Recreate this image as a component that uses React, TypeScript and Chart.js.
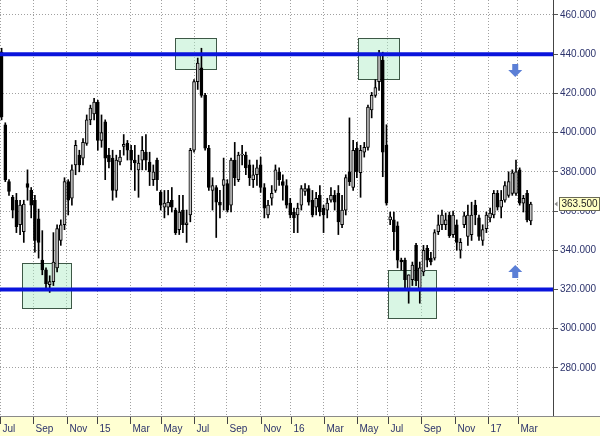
import { useEffect, useRef } from "react";
import { Chart, registerables } from "chart.js";

Chart.register(...registerables);

// Weekly OHLC (index 0 = first week of Jul 2014)
const opens = [
  441, 404, 375, 367, 365.5, 353, 349.5, 374, 370.5, 365.5,
  356, 335, 330, 322.5, 324, 331, 345, 353, 375, 366.5,
  383.5, 388.5, 387, 394.5, 406.5, 409.5, 415.5, 396, 405.5, 388.5,
  387, 370.5, 385, 393, 394.5, 391, 386, 381, 386, 390,
  385, 376, 386, 369.5, 362, 362, 365.5, 360.5, 350.5, 360.5,
  353, 358, 391, 426, 433, 419, 392, 370.5, 372, 364.5,
  373, 374, 363, 386, 376, 388.5, 388.5, 383.5, 376, 378.5,
  383.5, 372, 358, 366.5, 370.5, 380, 375, 373, 364, 359.5,
  358, 363, 370, 371.5, 365.5, 362, 368, 361.5, 360.5, 365.5,
  368, 369, 353, 360.5, 380, 372, 392, 379.5, 390, 392.5,
  411.5, 419, 426, 437, 393.5, 355.5, 355.5, 352.5, 335, 335,
  319.5, 325, 342.5, 320.5, 329, 341, 336, 336, 349.5, 353,
  353, 358, 348, 353, 340, 353, 347, 348, 363, 356.5,
  345, 351, 356.5, 358, 369, 362, 365.5, 368, 369, 369,
  381, 364, 369, 355,
];
const highs = [
  443, 405, 376, 368, 369, 365.5, 365.5, 381, 372, 368,
  361, 350, 331, 327, 349, 353, 355.5, 377, 376, 383.5,
  396, 391, 397, 409, 414, 417.5, 416.5, 409, 406.5, 392,
  391, 388.5, 391, 399, 396, 393.5, 393.5, 388.5, 398, 399,
  390, 383.5, 387, 370.5, 370.5, 370.5, 372, 361.5, 368, 368,
  360.5, 392, 427, 438, 443, 420, 393.5, 377, 373, 370.5,
  387, 376, 387, 395, 390, 393.5, 390, 386, 383.5, 386,
  387.5, 374, 365.5, 373, 383.5, 382, 378.5, 376, 366.5, 361.5,
  364, 373, 374, 373, 370.5, 369.5, 373, 363, 366.5, 372,
  370.5, 373, 368, 378.5, 407.5, 396, 395, 393.5, 395, 414,
  420.5, 427, 442, 441, 404, 359.5, 359.5, 354.5, 336, 336,
  327.5, 334, 343.5, 334, 342.5, 342.5, 339, 350.5, 358, 360.5,
  359, 359.5, 360, 355.5, 346, 359.5, 363, 364.5, 365.5, 358,
  353, 359.5, 361.5, 370.5, 370.5, 370.5, 375, 380, 381, 386,
  382, 368, 370.5, 364.5,
];
const lows = [
  406.5, 375, 368, 356.5, 349, 348, 344, 365.5, 356.5, 339,
  336, 327.5, 319.5, 318.5, 322, 329, 342.5, 350.5, 358, 363,
  378.5, 380, 383.5, 393.5, 404, 406.5, 391, 392.5, 376, 382,
  365.5, 367, 383.5, 388.5, 386, 381, 370.5, 367, 381, 381,
  373, 373, 370.5, 360.5, 356.5, 358, 359.5, 348, 348, 349,
  344, 354.5, 390, 422, 418, 391, 370.5, 360.5, 346.5, 356.5,
  360.5, 359.5, 359.5, 373, 375, 383.5, 378.5, 373, 372, 373,
  369.5, 356.5, 356.5, 363, 369.5, 373, 365.5, 361.5, 356.5, 349,
  349, 360.5, 368, 363, 357, 358, 357.5, 349, 356.5, 364.5,
  360.5, 348, 351.5, 358, 373, 370.5, 377, 367, 387.5, 391,
  407.5, 418, 421.5, 377.5, 363, 353, 340, 331, 330, 319.5,
  313, 322, 322, 313, 327, 331.5, 332.5, 335, 348, 350.5,
  350.5, 346.5, 346.5, 340, 336, 351.5, 342.5, 345, 353, 345,
  342.5, 349, 354.5, 356.5, 360.5, 356.5, 364.5, 367, 368, 368,
  363, 359.5, 354.5, 353,
];
const closes = [
  408, 376, 370, 360.5, 352, 363, 363.5, 372, 363, 345,
  344, 330, 323, 324, 334, 351, 353, 375, 365.5, 381,
  393.5, 383.5, 395, 406.5, 412.5, 415.5, 396, 400, 387, 385,
  370.5, 386, 387.5, 394, 391, 386, 384.5, 384.5, 391, 386,
  380, 380, 376, 363, 364, 364.5, 362, 349, 359.5, 353,
  354, 391, 426, 435.5, 419, 392, 372, 373, 364.5, 363,
  376, 360.5, 386, 377, 388.5, 389, 382, 377, 378.5, 382,
  372, 361.5, 363, 369, 381, 376, 373, 363, 358, 356.5,
  361.5, 371.5, 371.5, 364.5, 358, 366.5, 359.5, 358, 364, 368,
  364.5, 354.5, 360.5, 377, 375, 391, 380, 391, 392.5, 413,
  419, 423, 439.5, 390, 364, 357, 349.5, 335, 334, 325,
  327.5, 332.5, 324.5, 331, 340, 335, 334, 349, 353, 358,
  355.5, 347.5, 358, 344, 344, 357.5, 358, 358, 358, 347,
  350.5, 358, 359, 369, 362, 365.5, 373, 375, 379.5, 380,
  364, 366.5, 355.5, 363.5,
];

const tickLabels = ["Jul", "Sep", "Nov", "15", "Mar", "May", "Jul", "Sep", "Nov", "16", "Mar", "May", "Jul", "Sep", "Nov", "17", "Mar"];
const tickWeeks = [-0.43, 8.49, 17.6, 25.8, 34.7, 43.1, 52.1, 60.8, 70.0, 78.2, 87.1, 96.1, 104.4, 113.4, 122.4, 131.5, 139.5];
const priceTicks = [280, 300, 320, 340, 360, 380, 400, 420, 440, 460];
const levels = [440, 320];

const boxWeekStart = [5.5, 46.9, 96.3, 104.4];
const boxWeekEnd = [18.76, 57.9, 107.4, 117.4];
const boxPriceTop = [333.5, 448.3, 448.3, 329.9];
const boxPriceBottom = [310.5, 432.4, 427.3, 305.4];

const arrowWeek = [138.8, 138.8];
const arrowPrice = [431.7, 329.2];
const arrowDir = ["down", "up"];

const lastPrice = 363.5;
const xMin = -0.43;
const xMax = 149.0;
const yMin = 255.5;
const yMax = 467.6;

const FONT = "Liberation Sans, Arial, sans-serif";
const TEXT = "#2c336c";

const overlay = {
  id: "overlay",
  beforeDatasetsDraw(chart: any) {
    const { ctx, scales } = chart;
    const x = scales.x;
    const y = scales.y;
    ctx.save();
    for (let i = 0; i < boxWeekStart.length; i++) {
      const x0 = Math.round(x.getPixelForValue(boxWeekStart[i])) + 0.5;
      const x1 = Math.round(x.getPixelForValue(boxWeekEnd[i])) + 0.5;
      const y0 = Math.round(y.getPixelForValue(boxPriceTop[i])) + 0.5;
      const y1 = Math.round(y.getPixelForValue(boxPriceBottom[i])) + 0.5;
      ctx.fillStyle = "rgba(170,235,195,0.45)";
      ctx.fillRect(x0, y0, x1 - x0, y1 - y0);
      ctx.strokeStyle = "#3d5846";
      ctx.lineWidth = 1;
      ctx.strokeRect(x0, y0, x1 - x0, y1 - y0);
    }
    ctx.restore();
  },
  afterDatasetsDraw(chart: any) {
    const { ctx, scales } = chart;
    const x = scales.x;
    const y = scales.y;
    ctx.save();
    ctx.fillStyle = "#5b7fd6";
    for (let i = 0; i < arrowWeek.length; i++) {
      const ax = x.getPixelForValue(arrowWeek[i]);
      const ay = y.getPixelForValue(arrowPrice[i]);
      const d = arrowDir[i] === "down" ? 1 : -1;
      const pts: [number, number][] = [
        [-3, -6.5], [3, -6.5], [3, -0.5], [7, -0.5], [0, 6.5], [-7, -0.5], [-3, -0.5],
      ];
      ctx.beginPath();
      pts.forEach(([px, py], k) => {
        const X = ax + px;
        const Y = ay + d * py;
        if (k === 0) ctx.moveTo(X, Y);
        else ctx.lineTo(X, Y);
      });
      ctx.closePath();
      ctx.fill();
    }
    ctx.restore();
  },
  afterDraw(chart: any) {
    const { ctx, scales, chartArea, width, height } = chart;
    const x = scales.x;
    const y = scales.y;
    const bottom = chartArea.bottom;
    ctx.save();
    ctx.fillStyle = "#ffffd2";
    ctx.fillRect(0, bottom, width, height - bottom);
    ctx.strokeStyle = "#8a8a8a";
    ctx.lineWidth = 1;
    ctx.beginPath();
    ctx.moveTo(0, bottom + 0.5);
    ctx.lineTo(width, bottom + 0.5);
    ctx.stroke();
    ctx.strokeStyle = "#444";
    ctx.fillStyle = TEXT;
    ctx.font = `10px ${FONT}`;
    ctx.textAlign = "left";
    ctx.textBaseline = "alphabetic";
    for (let i = 0; i < tickWeeks.length; i++) {
      const px = Math.round(x.getPixelForValue(tickWeeks[i])) + 0.5;
      ctx.beginPath();
      ctx.moveTo(px, bottom + 1);
      ctx.lineTo(px, bottom + 8);
      ctx.stroke();
      ctx.fillText(tickLabels[i], px + 2, bottom + 16);
    }
    const cy = Math.round(y.getPixelForValue(lastPrice));
    const bx = chartArea.right + 6.5;
    ctx.fillStyle = "#ffffc4";
    ctx.fillRect(bx, cy - 6.5, 40, 13);
    ctx.strokeStyle = "#6a6a55";
    ctx.strokeRect(bx, cy - 6.5, 40, 13);
    ctx.fillStyle = "#222";
    ctx.textBaseline = "middle";
    ctx.fillText(lastPrice.toFixed(3), bx + 2, cy + 0.5);
    ctx.fillStyle = "#888";
    ctx.beginPath();
    ctx.moveTo(chartArea.right + 1.5, cy);
    ctx.lineTo(chartArea.right + 4.5, cy - 2.5);
    ctx.lineTo(chartArea.right + 4.5, cy + 2.5);
    ctx.closePath();
    ctx.fill();
    ctx.restore();
  },
};

export default function App() {
  const ref = useRef<HTMLCanvasElement | null>(null);

  useEffect(() => {
    document.body.style.margin = "0";
    const canvas = ref.current;
    if (!canvas) return;
    const idx = opens.map((_, i) => i);
    const chart = new Chart(canvas, {
      type: "bar",
      data: {
        datasets: [
          {
            type: "line",
            data: [{ x: xMin, y: levels[0] }, { x: xMax, y: levels[0] }],
            borderColor: "#0a14dc",
            borderWidth: 4,
            pointRadius: 0,
            order: 0,
          } as any,
          {
            type: "line",
            data: [{ x: xMin, y: levels[1] }, { x: xMax, y: levels[1] }],
            borderColor: "#0a14dc",
            borderWidth: 4,
            pointRadius: 0,
            order: 0,
          } as any,
          {
            type: "bar",
            data: idx.map((i) => ({ x: i, y: [lows[i], highs[i]] })),
            backgroundColor: "#000",
            barThickness: 1,
            grouped: false,
            order: 3,
          } as any,
          {
            type: "bar",
            data: idx.map((i) => ({
              x: i,
              y: [Math.min(opens[i], closes[i]), Math.max(opens[i], closes[i])],
            })),
            backgroundColor: idx.map((i) => (closes[i] >= opens[i] ? "#c4c4c4" : "#000000")),
            borderColor: "#000",
            borderWidth: 1,
            borderSkipped: false,
            barThickness: 3,
            grouped: false,
            order: 2,
          } as any,
        ],
      },
      options: {
        animation: false,
        responsive: true,
        maintainAspectRatio: false,
        layout: { padding: 0, autoPadding: false } as any,
        plugins: { legend: { display: false }, tooltip: { enabled: false } },
        scales: {
          x: {
            type: "linear",
            min: xMin,
            max: xMax,
            offset: false,
            afterBuildTicks: (s: any) => {
              s.ticks = tickWeeks.map((v) => ({ value: v }));
            },
            ticks: { display: false },
            grid: { color: "#a0a0a0", drawTicks: false, offset: false, lineWidth: 1 },
            border: { dash: [1, 2], color: "#8a8a8a" },
            afterFit: (s: any) => {
              s.height = 20;
              s.paddingLeft = 0;
              s.paddingRight = 0;
            },
          } as any,
          y: {
            position: "right",
            min: yMin,
            max: yMax,
            afterBuildTicks: (s: any) => {
              s.ticks = priceTicks.map((v) => ({ value: v }));
            },
            ticks: {
              callback: (v: any) => Number(v).toFixed(3),
              font: { family: FONT, size: 10 },
              color: TEXT,
              padding: 2,
              autoSkip: false,
            },
            grid: { color: "#a0a0a0", tickLength: 5, tickColor: "#555", lineWidth: 1 },
            border: { dash: [1, 2], color: "#444" },
            afterFit: (s: any) => {
              s.width = 47;
              s.paddingTop = 0;
              s.paddingBottom = 0;
            },
          } as any,
        },
      },
      plugins: [overlay],
    });
    return () => chart.destroy();
  }, []);

  return (
    <div style={{ position: "absolute", left: 0, top: 0, width: 600, height: 436, background: "#fff" }}>
      <canvas ref={ref} />
    </div>
  );
}
